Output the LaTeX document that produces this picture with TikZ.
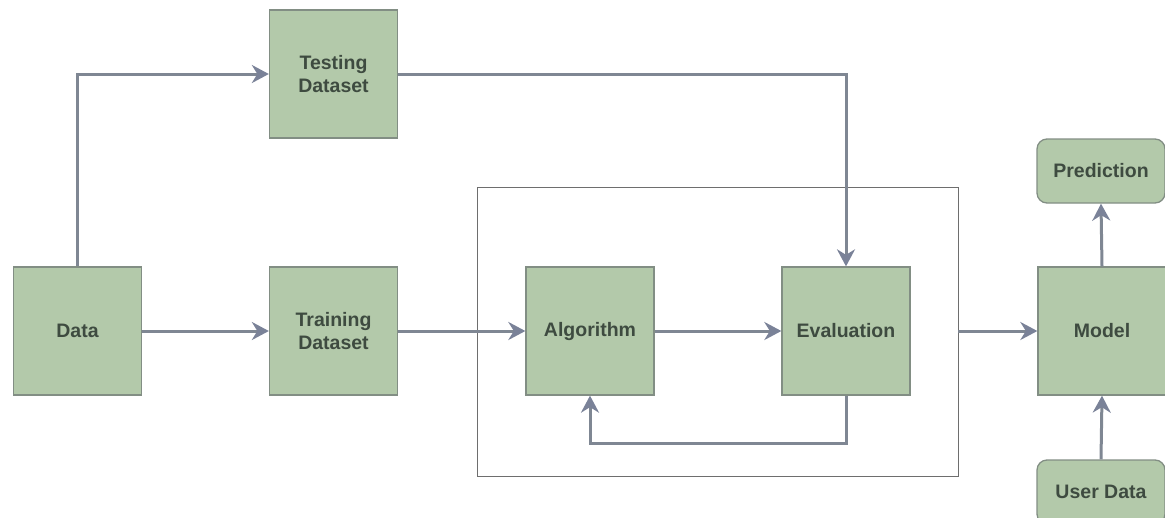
\documentclass[tikz,border=0pt]{standalone}
\usepackage{fontspec}
\setmainfont{Liberation Sans}
\usetikzlibrary{arrows.meta}
\definecolor{boxfill}{HTML}{B3C9AA}
\definecolor{boxline}{HTML}{828E84}
\definecolor{boxtext}{HTML}{3E4B40}
\definecolor{flow}{HTML}{7F8793}
\definecolor{tip}{HTML}{7A8298}
\definecolor{frame}{HTML}{6E6E6E}
\tikzset{
  block/.style={draw=boxline, fill=boxfill, line width=1.3pt,
    minimum width=128pt, minimum height=128pt, inner sep=0pt,
    text=boxtext, align=center,
    font=\fontsize{19.5}{23}\selectfont\bfseries},
  roundblock/.style={block, rounded corners=10pt, minimum height=64pt},
  flowline/.style={draw=flow, line width=3pt,
    -{Stealth[length=17pt, width=18pt, inset=5.5pt, color=tip]}},
  groupframe/.style={draw=frame, line width=0.9pt}
}
\begin{document}
\begin{tikzpicture}[x=1pt, y=-1pt]
\useasboundingbox (0,0) rectangle (1165,517);

% grouping frame around the training loop
\draw[groupframe] (477,187) rectangle (958,476);
\coordinate (frameR) at (958,331);

% blocks
\node[block] (data)  at (77.5,331) {Data};
\node[block] (train) at (333.5,331) {Training\\Dataset};
\node[block] (test)  at (333.5,74)  {Testing\\Dataset};
\node[block] (algo)  at (590,331)   {Algorithm};
\node[block] (eval)  at (846,331)   {Evaluation};
\node[block] (model) at (1102,331)  {Model};
\node[roundblock] (pred) at (1101,171) {Prediction};
\node[roundblock] (user) at (1101,492) {User Data};

% connectors
\draw[flowline] (data.north) |- (test.west);
\draw[flowline] (data.east) -- (train.west);
\draw[flowline] (train.east) -- (algo.west);
\draw[flowline] (test.east) -| (eval.north);
\draw[flowline] (algo.east) -- (eval.west);
\draw[flowline] (eval.south) -- ++(0,48) -| (algo.south);
\draw[flowline] (frameR) -- (model.west);
\draw[flowline] (model.north) -- (pred.south);
\draw[flowline] (user.north) -- (model.south);
\end{tikzpicture}
\end{document}
